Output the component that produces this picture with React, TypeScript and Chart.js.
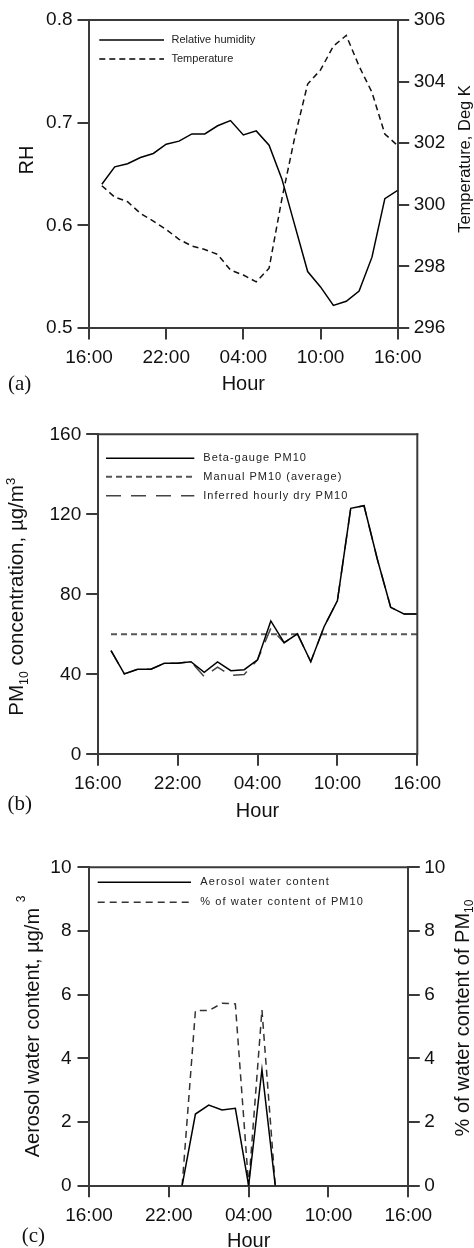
import React, { useEffect, useRef } from 'react';
import { Chart, registerables } from 'chart.js';

Chart.register(...registerables);

// ---------------- DATA ----------------
// hours elapsed since 16:00 (1 = 17:00 ... 24 = 16:00 next day)
const hours = [1, 2, 3, 4, 5, 6, 7, 8, 9, 10, 11, 12, 13, 14, 15, 16, 17, 18, 19, 20, 21, 22, 23, 24];
const xTickValues = [0, 6, 12, 18, 24];
const xTickLabels = ['16:00', '22:00', '04:00', '10:00', '16:00'];

// Panel (a)
const rhValues = [0.640, 0.657, 0.660, 0.666, 0.670, 0.679, 0.682, 0.689, 0.689, 0.697, 0.702, 0.688,
  0.692, 0.678, 0.645, 0.600, 0.555, 0.540, 0.522, 0.526, 0.536, 0.569, 0.626, 0.634];
const temperatureValues = [300.62, 300.25, 300.1, 299.72, 299.47, 299.2, 298.88, 298.66, 298.55, 298.39, 297.88, 297.72,
  297.5, 297.94, 300.2, 302.2, 303.92, 304.38, 305.15, 305.5, 304.5, 303.65, 302.3, 301.92];
const rhTicks = [0.5, 0.6, 0.7, 0.8];
const tempTicks = [296, 298, 300, 302, 304, 306];

// Panel (b)
const betaGaugePM10 = [51.8, 40.2, 42.5, 42.5, 45.5, 45.5, 46.3, 41.0, 46.2, 41.8, 42.3, 47.2,
  66.7, 55.8, 60.2, 46.3, 63.8, 76.8, 123.0, 124.3, 97.5, 73.5, 70.2, 70.2];
const inferredDryPM10 = [51.8, 40.2, 42.5, 42.5, 45.5, 45.5, 46.3, 38.8, 43.6, 39.4, 39.9, 47.2,
  63.0, 55.8, 60.2, 46.3, 63.8, 76.8, 123.0, 124.3, 97.5, 73.5, 70.2, 70.2];
const manualHours = [1, 24];
const manualPM10 = [60, 60];
const pmTicks = [0, 40, 80, 120, 160];

// Panel (c)
const waterContent = [null, null, null, null, null, null, 0, 2.25, 2.53, 2.38, 2.43, 0,
  3.65, 0, null, null, null, null, null, null, null, null, null, null];
const waterPercent = [null, null, null, null, null, null, 0, 5.5, 5.5, 5.73, 5.71, 0,
  5.52, 0, null, null, null, null, null, null, null, null, null, null];
const waterTicks = [0, 2, 4, 6, 8, 10];

// ---------------- STYLE ----------------
const FONT = '"Liberation Sans", Arial, Helvetica, sans-serif';
const SERIF = '"Liberation Serif", "Times New Roman", serif';
const AXIS_COLOR = '#3a3a3a';
const TEXT_COLOR = '#111';
const TICK_LEN = 11.5;

type Seg = { t: string; scale?: number; dy?: number };
type Label = { segs: Seg[]; x: number; y: number; rot: number; size: number; family: string; align: 'left' | 'center' };
type LegendEntry = { text: string; y: number; x1: number; x2: number; tx: number; dash: number[]; color: string; width: number };
type Decor = { labels: Label[]; legend: LegendEntry[]; legendFont: number; legendSpacing: number; frameTop: boolean; frameRight: boolean };

function drawRich(ctx: CanvasRenderingContext2D, l: Label) {
  ctx.save();
  ctx.translate(l.x, l.y);
  ctx.rotate(l.rot);
  ctx.textBaseline = 'alphabetic';
  ctx.textAlign = 'left';
  ctx.fillStyle = TEXT_COLOR;
  const widths = l.segs.map((s) => {
    ctx.font = `${l.size * (s.scale ?? 1)}px ${l.family}`;
    return ctx.measureText(s.t).width;
  });
  const total = widths.reduce((a, b) => a + b, 0);
  let cx = l.align === 'center' ? -total / 2 : 0;
  l.segs.forEach((s, i) => {
    ctx.font = `${l.size * (s.scale ?? 1)}px ${l.family}`;
    ctx.fillText(s.t, cx, (s.dy ?? 0) * l.size);
    cx += widths[i];
  });
  ctx.restore();
}

function decorPlugin(d: Decor) {
  return {
    id: 'decor',
    afterDraw(chart: any) {
      const ctx: CanvasRenderingContext2D = chart.ctx;
      const a = chart.chartArea;
      ctx.save();
      ctx.strokeStyle = AXIS_COLOR;
      ctx.lineWidth = 2;
      ctx.setLineDash([]);
      if (d.frameTop) {
        ctx.beginPath();
        ctx.moveTo(a.left - 1, a.top);
        ctx.lineTo(a.right + 1, a.top);
        ctx.stroke();
      }
      if (d.frameRight) {
        ctx.beginPath();
        ctx.moveTo(a.right, a.top - 1);
        ctx.lineTo(a.right, a.bottom + 1);
        ctx.stroke();
      }
      for (const e of d.legend) {
        ctx.save();
        ctx.setLineDash(e.dash);
        ctx.strokeStyle = e.color;
        ctx.lineWidth = e.width;
        ctx.beginPath();
        ctx.moveTo(e.x1, e.y);
        ctx.lineTo(e.x2, e.y);
        ctx.stroke();
        ctx.restore();
        ctx.font = `${d.legendFont}px ${FONT}`;
        (ctx as any).letterSpacing = `${d.legendSpacing}px`;
        ctx.fillStyle = '#222';
        ctx.textBaseline = 'middle';
        ctx.textAlign = 'left';
        ctx.fillText(e.text, e.tx, e.y);
        (ctx as any).letterSpacing = '0px';
      }
      for (const l of d.labels) drawRich(ctx, l);
      ctx.restore();
    },
  };
}

function pts(xs: number[], ys: (number | null)[]) {
  return xs.map((x, i) => ({ x, y: ys[i] }));
}

function xAxis(height: number) {
  return {
    type: 'linear',
    min: 0,
    max: 24,
    afterBuildTicks: (s: any) => {
      s.ticks = xTickValues.map((v) => ({ value: v }));
    },
    ticks: {
      autoSkip: false,
      maxRotation: 0,
      padding: 7,
      color: TEXT_COLOR,
      font: { family: FONT, size: 19 },
      callback: (_v: any, i: number) => xTickLabels[i],
    },
    grid: { drawOnChartArea: false, drawTicks: true, tickLength: TICK_LEN, color: AXIS_COLOR, lineWidth: 2 },
    border: { display: true, color: AXIS_COLOR, width: 2 },
    afterFit: (s: any) => {
      s.height = height;
    },
  };
}

function yAxis(position: 'left' | 'right', tickVals: number[], width: number, padding: number, digits: number) {
  return {
    type: 'linear',
    position,
    min: tickVals[0],
    max: tickVals[tickVals.length - 1],
    afterBuildTicks: (s: any) => {
      s.ticks = tickVals.map((v) => ({ value: v }));
    },
    ticks: {
      autoSkip: false,
      padding,
      color: TEXT_COLOR,
      font: { family: FONT, size: 19 },
      callback: (v: any) => Number(v).toFixed(digits),
    },
    grid: { drawOnChartArea: false, drawTicks: true, tickLength: TICK_LEN, color: AXIS_COLOR, lineWidth: 2 },
    border: { display: true, color: AXIS_COLOR, width: 2 },
    afterFit: (s: any) => {
      s.width = width;
    },
  };
}

function baseOptions(padding: any, scales: any) {
  return {
    responsive: false,
    animation: false,
    devicePixelRatio: 1,
    events: [],
    layout: { padding },
    plugins: { legend: { display: false }, tooltip: { enabled: false } },
    elements: { point: { radius: 0 }, line: { tension: 0, fill: false } },
    scales,
  };
}

function configA(): any {
  const decor: Decor = {
    frameTop: true,
    frameRight: false,
    legendFont: 11,
    legendSpacing: 0,
    legend: [
      { text: 'Relative humidity', y: 40, x1: 99.3, x2: 164, tx: 171.5, dash: [], color: '#000', width: 1.5 },
      { text: 'Temperature', y: 59, x1: 99.3, x2: 164, tx: 171.5, dash: [6, 4], color: '#000', width: 1.5 },
    ],
    labels: [
      { segs: [{ t: 'RH' }], x: 33.3, y: 160, rot: -Math.PI / 2, size: 20, family: FONT, align: 'center' },
      { segs: [{ t: 'Temperature, Deg K' }], x: 470, y: 159, rot: -Math.PI / 2, size: 16.5, family: FONT, align: 'center' },
      { segs: [{ t: 'Hour' }], x: 243.3, y: 389.5, rot: 0, size: 20, family: FONT, align: 'center' },
      { segs: [{ t: '(a)' }], x: 8, y: 390, rot: 0, size: 21, family: SERIF, align: 'left' },
    ],
  };
  return {
    type: 'line',
    data: {
      datasets: [
        { label: 'Relative humidity', data: pts(hours, rhValues), yAxisID: 'y', borderColor: '#000', borderWidth: 1.5 },
        { label: 'Temperature', data: pts(hours, temperatureValues), yAxisID: 'y1', borderColor: '#111', borderWidth: 1.5, borderDash: [6, 4] },
      ],
    },
    options: baseOptions({ top: 20, left: 0, right: 0, bottom: 0 }, {
      x: xAxis(72),
      y: yAxis('left', rhTicks, 89, 5, 1),
      y1: yAxis('right', tempTicks, 76.3, 4.5, 0),
    }),
    plugins: [decorPlugin(decor)],
  };
}

function configB(): any {
  const decor: Decor = {
    frameTop: true,
    frameRight: true,
    legendFont: 11,
    legendSpacing: 1,
    legend: [
      { text: 'Beta-gauge PM10', y: 58.3, x1: 106, x2: 194.3, tx: 203.3, dash: [], color: '#000', width: 1.5 },
      { text: 'Manual PM10 (average)', y: 76.7, x1: 106, x2: 194.3, tx: 203.3, dash: [6, 4], color: '#555', width: 2 },
      { text: 'Inferred hourly dry PM10', y: 95.7, x1: 106, x2: 194.3, tx: 203.3, dash: [15, 10], color: '#444', width: 1.5 },
    ],
    labels: [
      {
        segs: [{ t: 'PM' }, { t: '10', scale: 0.6, dy: 0.25 }, { t: ' concentration, µg/m' }, { t: '3', scale: 0.65, dy: -0.38 }],
        x: 22.8, y: 196.7, rot: -Math.PI / 2, size: 20.5, family: FONT, align: 'center',
      },
      { segs: [{ t: 'Hour' }], x: 257.5, y: 416.5, rot: 0, size: 20, family: FONT, align: 'center' },
      { segs: [{ t: '(b)' }], x: 7.5, y: 410, rot: 0, size: 21, family: SERIF, align: 'left' },
    ],
  };
  return {
    type: 'line',
    data: {
      datasets: [
        { label: 'Beta-gauge PM10', data: pts(hours, betaGaugePM10), yAxisID: 'y', borderColor: '#000', borderWidth: 1.5 },
        { label: 'Inferred hourly dry PM10', data: pts(hours, inferredDryPM10), yAxisID: 'y', borderColor: '#444', borderWidth: 1.5, borderDash: [15, 10] },
        { label: 'Manual PM10 (average)', data: pts(manualHours, manualPM10), yAxisID: 'y', borderColor: '#555', borderWidth: 2, borderDash: [6, 4] },
      ],
    },
    options: baseOptions({ top: 34.3, left: 0, right: 56.7, bottom: 0 }, {
      x: xAxis(75.7),
      y: yAxis('left', pmTicks, 97.7, 5, 0),
    }),
    plugins: [decorPlugin(decor)],
  };
}

function configC(): any {
  const decor: Decor = {
    frameTop: true,
    frameRight: false,
    legendFont: 11,
    legendSpacing: 1.1,
    legend: [
      { text: 'Aerosol water content', y: 52.3, x1: 97.7, x2: 191, tx: 200.3, dash: [], color: '#000', width: 1.5 },
      { text: '% of water content of PM10', y: 72.3, x1: 97.7, x2: 191, tx: 200.3, dash: [7, 5], color: '#333', width: 1.5 },
    ],
    labels: [
      {
        segs: [{ t: 'Aerosol water content, µg/m ' }, { t: '3', scale: 0.6, dy: -0.72 }],
        x: 39.3, y: 196.5, rot: -Math.PI / 2, size: 20, family: FONT, align: 'center',
      },
      {
        segs: [{ t: '% of water content of PM' }, { t: '10', scale: 0.6, dy: 0.2 }],
        x: 469.3, y: 188, rot: -Math.PI / 2, size: 20, family: FONT, align: 'center',
      },
      { segs: [{ t: 'Hour' }], x: 248.7, y: 417, rot: 0, size: 20, family: FONT, align: 'center' },
      { segs: [{ t: '(c)' }], x: 21.7, y: 412, rot: 0, size: 21, family: SERIF, align: 'left' },
    ],
  };
  return {
    type: 'line',
    data: {
      datasets: [
        { label: 'Aerosol water content', data: pts(hours, waterContent), yAxisID: 'y', borderColor: '#000', borderWidth: 1.5, spanGaps: false },
        { label: '% of water content of PM10', data: pts(hours, waterPercent), yAxisID: 'y1', borderColor: '#333', borderWidth: 1.5, borderDash: [7, 5], spanGaps: false },
      ],
    },
    options: baseOptions({ top: 37.3, left: 0, right: 0, bottom: 0 }, {
      x: xAxis(62.3),
      y: yAxis('left', waterTicks, 89, 6, 0),
      y1: yAxis('right', waterTicks, 65.7, 4.5, 0),
    }),
    plugins: [decorPlugin(decor)],
  };
}

export default function App() {
  const refA = useRef<HTMLCanvasElement>(null);
  const refB = useRef<HTMLCanvasElement>(null);
  const refC = useRef<HTMLCanvasElement>(null);

  useEffect(() => {
    const charts = [
      new Chart(refA.current!, configA()),
      new Chart(refB.current!, configB()),
      new Chart(refC.current!, configC()),
    ];
    return () => charts.forEach((c) => c.destroy());
  }, []);

  return (
    <div style={{ position: 'absolute', left: 0, top: 0, width: 474, height: 1248, background: '#fff', overflow: 'hidden' }}>
      <canvas ref={refA} width={474} height={400} style={{ position: 'absolute', left: 0, top: 0, width: 474, height: 400 }} />
      <canvas ref={refB} width={474} height={430} style={{ position: 'absolute', left: 0, top: 400, width: 474, height: 430 }} />
      <canvas ref={refC} width={474} height={418} style={{ position: 'absolute', left: 0, top: 830, width: 474, height: 418 }} />
    </div>
  );
}
